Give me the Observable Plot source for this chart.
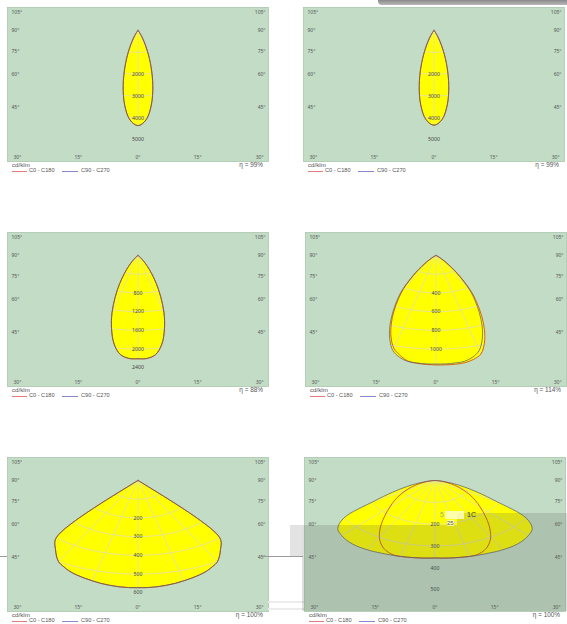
<!DOCTYPE html>
<html><head><meta charset="utf-8">
<script src="https://cdn.jsdelivr.net/npm/d3@7"></script>
<script src="https://cdn.jsdelivr.net/npm/@observablehq/plot@0.6"></script>
<style>
html,body{margin:0;padding:0;background:#fff;}
body{width:567px;height:624px;overflow:hidden;position:relative;font-family:"Liberation Sans",Arial,sans-serif;}
.chart{position:absolute;}
.chart svg{display:block;overflow:visible;}
.lg{position:absolute;white-space:nowrap;color:#555;line-height:1;}
.fx{position:absolute;}
</style></head><body>
<script>
// ---- data ----
const gammaDeg = [0,3,6,9,12,15,18,21,24,27,30,35,40,45,50,55,60,65,70,75,80,85,90];

const ldc1_C0C180  = [4360,4108,3437,2552,1683,986,512,236,97,35,11,2,0,0,0,0,0,0,0,0,0,0,0];
const ldc1_C90C270 = [4355,4100,3430,2548,1680,985,512,236,97,35,11,2,0,0,0,0,0,0,0,0,0,0,0];

const ldc2_C0C180  = [4340,4092,3425,2545,1680,984,511,235,96,34,11,2,0,0,0,0,0,0,0,0,0,0,0];
const ldc2_C90C270 = [4338,4090,3420,2540,1676,982,510,235,96,34,11,2,0,0,0,0,0,0,0,0,0,0,0];

const ldc3_C0C180  = [2210,2205,2130,1920,1600,1260,920,640,420,260,150,55,15,3,0,0,0,0,0,0,0,0,0];
const ldc3_C90C270 = [2205,2200,2125,1915,1600,1262,922,642,420,260,150,55,15,3,0,0,0,0,0,0,0,0,0];

const ldc4_C0      = [1170,1170,1168,1160,1135,1090,985,850,705,565,440,235,105,42,15,5,0,0,0,0,0,0,0];
const ldc4_C180    = [1170,1166,1158,1140,1090,1025,915,785,650,520,405,215,95,38,14,5,0,0,0,0,0,0,0];
const ldc4_C90C270 = [1160,1160,1155,1145,1110,1050,940,810,670,540,420,220,92,40,15,5,0,0,0,0,0,0,0];

const ldc5_C0C180  = [573,573,571,567,562,555,548,540,530,516,500,452,400,20,0,0,0,0,0,0,0,0,0];
const ldc5_C90C270 = [573,573,571,567,562,555,548,540,530,516,500,452,400,20,0,0,0,0,0,0,0,0,0];

const ldc6_C0C180  = [355,356,357,358,359,360,359,352,340,322,300,255,210,172,142,115,90,68,48,30,15,5,0];
const ldc6_C90C270 = [355,356,357,358,359,360,361,362,363,365,366,367,364,356,342,300,190,125,80,45,20,6,0];

const ticks1 = [2000,3000,4000,5000];
const ticks2 = [2000,3000,4000,5000];
const ticks3 = [800,1200,1600,2000,2400];
const ticks4 = [400,600,800,1000];
const ticks5 = [200,300,400,500,600];
const ticks6 = [200,300,400,500];

const rMaxes  = [6000,6000,2800,1400,700,600];
const steps   = [1000,1000,400,200,100,100];
const etaLabels = ["η = 99%","η = 99%","η = 88%","η = 114%","η = 100%","η = 100%"];

const sideAngles = [105,90,75,60,45];
const bottomAngles = [-30,-15,0,15,30];
const legendNames = ["C0 - C180","C90 - C270"];
const unitLabel = "cd/klm";

// ---- layout / style ----
const W = 261, H = 154, OY = 23, K = 1.7;
const GREEN = "#c2dcc5", YELLOW = "#ffff00", GRID = "#e4e2a2";
const C0COL = "#d2641e", C90COL = "#5a5a6e";
const LG0 = "#e05a5a", LG90 = "#6a6ac4";
const frames = [[7,7],[303,7],[7,232],[305,232],[7,457],[304,457]];

const series = [
  [ldc1_C0C180, ldc1_C0C180, ldc1_C90C270],
  [ldc2_C0C180, ldc2_C0C180, ldc2_C90C270],
  [ldc3_C0C180, ldc3_C0C180, ldc3_C90C270],
  [ldc4_C0, ldc4_C180, ldc4_C90C270],
  [ldc5_C0C180, ldc5_C0C180, ldc5_C90C270],
  [ldc6_C0C180, ldc6_C0C180, ldc6_C90C270]
];
const tickSets = [ticks1,ticks2,ticks3,ticks4,ticks5,ticks6];

const rad = d => d*Math.PI/180;
function polar(right, left) {
  const pts = [{x:0,y:0}];
  for (let i = gammaDeg.length-1; i >= 0; i--) {
    const I = left[i]; if (I > 0) pts.push({x: -I*Math.sin(rad(gammaDeg[i])), y: I*Math.cos(rad(gammaDeg[i]))});
  }
  for (let i = 1; i < gammaDeg.length; i++) {
    const I = right[i]; if (I > 0) pts.push({x: I*Math.sin(rad(gammaDeg[i])), y: I*Math.cos(rad(gammaDeg[i]))});
  }
  pts.push({x:0,y:0});
  return pts;
}

function addDiv(cls, css, text) {
  const d = document.createElement("div");
  d.className = cls; d.style.cssText = css;
  if (text != null) d.textContent = text;
  document.body.appendChild(d);
  return d;
}

frames.forEach(([fl, ft], ci) => {
  const rMax = rMaxes[ci], step = steps[ci];
  const sy = (H - OY) / rMax, sx = K * sy;
  const xHalf = (W/2) / sx, yTop = -OY / sy;
  const [c0, c180, c90] = series[ci];
  const p0 = polar(c0, c180);
  const p90 = polar(c90, c90);

  const radials = d3.range(-180, 181, 15).map(a => ({x2: 3*rMax*Math.sin(rad(a)), y2: 3*rMax*Math.cos(rad(a))}));
  const ringPts = [];
  for (let r = step; r <= rMax*1.2; r += step)
    for (let a = 0; a <= 360; a += 3) ringPts.push({r, x: r*Math.sin(rad(a)), y: r*Math.cos(rad(a))});

  const minY = yTop + 5/sy;
  const sideLabels = [];
  sideAngles.forEach(a => {
    const y = Math.max(minY, xHalf / Math.tan(rad(a)));
    sideLabels.push({x: -xHalf, y, t: a + "°", side: "L"});
    sideLabels.push({x: xHalf, y, t: a + "°", side: "R"});
  });
  const botLabels = bottomAngles.map(a => {
    const x = Math.max(-xHalf, Math.min(xHalf, rMax*Math.tan(rad(a))));
    return {x, y: rMax, t: Math.abs(a) + "°", a};
  });

  const plot = Plot.plot({
    width: W, height: H, margin: 0,
    x: {domain: [-xHalf, xHalf], range: [0, W], axis: null},
    y: {domain: [yTop, rMax], range: [0, H], axis: null},
    style: {background: "transparent", overflow: "visible"},
    marks: [
      Plot.frame({fill: GREEN, stroke: "#aac6ad", strokeWidth: 0.8}),
      Plot.line(p90, {x: "x", y: "y", fill: YELLOW, stroke: "none", curve: "catmull-rom"}),
      Plot.line(p0, {x: "x", y: "y", fill: YELLOW, stroke: "none", curve: "catmull-rom"}),
      Plot.link(radials, {x1: () => 0, y1: () => 0, x2: "x2", y2: "y2", stroke: GRID, strokeWidth: 0.9}),
      Plot.line(ringPts, {x: "x", y: "y", z: "r", stroke: GRID, strokeWidth: 0.9}),
      Plot.line(p0, {x: "x", y: "y", stroke: C0COL, strokeWidth: 1, curve: "catmull-rom"}),
      Plot.line(p90, {x: "x", y: "y", stroke: C90COL, strokeWidth: 1, strokeOpacity: 0.72, curve: "catmull-rom"}),
      Plot.text(sideLabels.filter(d => d.side === "L"), {x: "x", y: "y", text: "t", textAnchor: "start", dx: 4, fontSize: 5, fill: "#555"}),
      Plot.text(sideLabels.filter(d => d.side === "R"), {x: "x", y: "y", text: "t", textAnchor: "end", dx: -3, fontSize: 5, fill: "#555"}),
      Plot.text(botLabels.filter(d => Math.abs(d.a) < 20), {x: "x", y: "y", text: "t", dy: -4, fontSize: 5, fill: "#555"}),
      Plot.text(botLabels.filter(d => d.a < -20), {x: "x", y: "y", text: "t", dy: -4, dx: 4, textAnchor: "start", fontSize: 5, fill: "#555"}),
      Plot.text(botLabels.filter(d => d.a > 20), {x: "x", y: "y", text: "t", dy: -4, dx: -3, textAnchor: "end", fontSize: 5, fill: "#555"}),
      Plot.text(tickSets[ci], {x: () => 0, y: d => d, text: d => String(d), fontSize: 5.2, fill: "#444"})
    ]
  });

  // clip the grid to the lit (yellow) region
  const svgNS = "http://www.w3.org/2000/svg";
  let defs = plot.querySelector("defs");
  if (!defs) { defs = document.createElementNS(svgNS, "defs"); plot.insertBefore(defs, plot.firstChild); }
  const cp = document.createElementNS(svgNS, "clipPath");
  cp.setAttribute("id", "lit" + ci);
  plot.querySelectorAll(`g[fill="${YELLOW}"] path`).forEach(p => {
    const q = document.createElementNS(svgNS, "path");
    q.setAttribute("d", p.getAttribute("d"));
    cp.appendChild(q);
  });
  defs.appendChild(cp);
  plot.querySelectorAll(`g[stroke="${GRID}"]`).forEach(g => g.setAttribute("clip-path", `url(#lit${ci})`));

  const wrap = addDiv("chart", `left:${fl}px;top:${ft}px;width:${W}px;height:${H}px;`);
  wrap.appendChild(plot);

  // legend
  const lb = ft + H;
  addDiv("lg", `left:${fl+5}px;top:${lb+0.5}px;font-size:6.2px;`, unitLabel);
  addDiv("lg", `left:${fl+5}px;top:${lb+9.5}px;width:15px;height:0;border-top:1px solid ${LG0};opacity:0.8`);
  addDiv("lg", `left:${fl+22}px;top:${lb+7}px;font-size:5.6px;`, legendNames[0]);
  addDiv("lg", `left:${fl+55}px;top:${lb+9.5}px;width:16px;height:0;border-top:1px solid ${LG90};opacity:0.8`);
  addDiv("lg", `left:${fl+74}px;top:${lb+7}px;font-size:5.6px;`, legendNames[1]);
  const e = addDiv("lg", `top:${lb+0.5}px;font-size:6.4px;`, etaLabels[ci]);
  e.style.left = (fl + W - 5) + "px"; e.style.transform = "translateX(-100%)";
});

// ---- screenshot artefacts ----
addDiv("fx", "left:378px;top:-3px;width:200px;height:8px;border-radius:4px;background:linear-gradient(#6f6f6f,#b8b8b8);");
addDiv("fx", "left:290px;top:525px;width:12px;height:32px;background:#e3e3e3;");
addDiv("fx", "left:262px;top:556px;width:41px;height:1px;background:#9c9c9c;");
addDiv("fx", "left:0px;top:556px;width:7px;height:1px;background:#9c9c9c;");
addDiv("fx", "left:268px;top:601px;width:36px;height:2px;background:#ececec;");
addDiv("fx", "left:268px;top:608px;width:36px;height:2px;background:#ececec;");
addDiv("fx", "left:302px;top:525px;width:155px;height:86px;background:rgba(90,95,90,0.2);");
addDiv("fx", "left:457px;top:513px;width:110px;height:98px;background:rgba(90,95,90,0.2);");
addDiv("fx", "left:445px;top:511px;width:19px;height:8px;background:rgba(255,255,225,0.75);");
addDiv("lg", "left:440px;top:511px;font-size:7px;color:#9bb36a;", "5");
addDiv("lg", "left:467px;top:511px;font-size:7px;color:#333;", "1C");
addDiv("lg", "left:447px;top:519.5px;font-size:6px;color:#555;background:rgba(255,255,225,0.7);", "25");
</script>
</body></html>
